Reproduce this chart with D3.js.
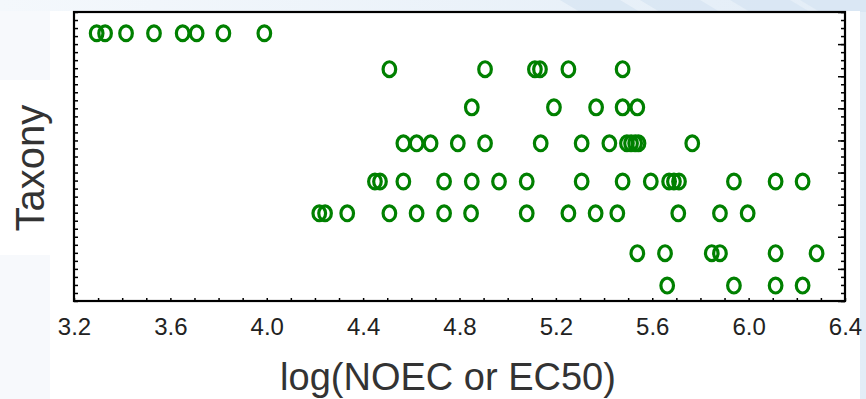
<!DOCTYPE html>
<html>
<head>
<meta charset="utf-8">
<script src="https://cdn.jsdelivr.net/npm/d3@7"></script>
<style>
  body { margin: 0; background: #ffffff; }
  svg { display: block; }
  .tick text { font-family: "Liberation Sans", Arial, sans-serif; }
</style>
</head>
<body>
<div class="chart"></div>
<script>
// chart data
var taxonRows = [8.34, 7.22, 6.03, 4.91, 3.72, 2.73, 1.49, 0.48];

var row1 = [3.294, 3.329, 3.416, 3.532, 3.651, 3.709, 3.820, 3.990];
var row2 = [4.509, 4.906, 5.113, 5.134, 5.252, 5.477];
var row3 = [4.851, 5.192, 5.367, 5.477, 5.538];
var row4 = [4.567, 4.622, 4.680, 4.793, 4.906, 5.137, 5.307, 5.422, 5.495, 5.512, 5.529, 5.543, 5.766];
var row5 = [4.449, 4.470, 4.567, 4.736, 4.851, 4.964, 5.079, 5.307, 5.477, 5.594, 5.670, 5.690, 5.711, 5.939, 6.112, 6.224];
var row6 = [4.218, 4.242, 4.334, 4.509, 4.622, 4.736, 4.848, 5.079, 5.252, 5.365, 5.455, 5.708, 5.881, 5.996];
var row7 = [5.538, 5.653, 5.847, 5.881, 6.112, 6.282];
var row8 = [5.662, 5.939, 6.112, 6.224];

var xTickLabels = [3.2, 3.6, 4.0, 4.4, 4.8, 5.2, 5.6, 6.0, 6.4];

var xLabel = "log(NOEC or EC50)";
var yLabel = "Taxony";

// set up the chart
var svgWidth = 866;
var svgHeight = 399;
var margin = { top: 12, right: 21, bottom: 98, left: 74 };
var width = svgWidth - margin.left - margin.right;
var height = svgHeight - margin.top - margin.bottom;

var svg = d3.select(".chart")
    .append("svg")
    .attr("width", svgWidth)
    .attr("height", svgHeight);

// slide-like background
var defs = svg.append("defs");
var grad = defs.append("linearGradient").attr("id", "bg").attr("x1", 0).attr("x2", 1);
grad.append("stop").attr("offset", "0%").attr("stop-color", "#f4f8fc");
grad.append("stop").attr("offset", "100%").attr("stop-color", "#e3edf7");

svg.append("rect").attr("width", svgWidth).attr("height", svgHeight).attr("fill", "url(#bg)");
// diagonal stripes in the top band
[[560, 620], [640, 700], [730, 790], [800, 866]].forEach(function (s) {
    svg.append("path")
        .attr("d", `M${s[0]},0 L${s[1]},0 L${s[1] + 20},12 L${s[0] + 20},12 Z`)
        .attr("fill", "#d6e4f2")
        .attr("opacity", 0.7);
});
svg.append("rect").attr("x", 0).attr("y", 11).attr("width", 50).attr("height", svgHeight - 11).attr("fill", "#f7f9fc");
svg.append("rect").attr("x", 50).attr("y", 11).attr("width", svgWidth - 50 - 6).attr("height", svgHeight - 11).attr("fill", "#ffffff");
svg.append("rect").attr("x", 0).attr("y", 80).attr("width", 50).attr("height", 175).attr("fill", "#ffffff");

var chart = svg.append("g")
    .attr("transform", `translate(${margin.left},${margin.top})`);

// scales
var xScale = d3.scaleLinear().domain([3.2, 6.4]).range([0, width]);
var yScale = d3.scaleLinear().domain([0, 9]).range([height, 0]);

chart.append("rect")
    .attr("width", width)
    .attr("height", height)
    .attr("fill", "#ffffff");

// minor ticks on the bottom, pointing in
chart.append("g")
    .attr("class", "x-minor")
    .attr("transform", `translate(0,${height})`)
    .call(d3.axisBottom(xScale).tickValues(d3.range(32, 65).map(function (d) { return d / 10; }))
        .tickSize(-3).tickFormat(""))
    .call(function (g) { g.select(".domain").remove(); })
    .selectAll("line").attr("stroke", "#000").attr("stroke-width", 1.5);

// x labels
chart.append("g")
    .attr("class", "x-axis")
    .attr("transform", `translate(0,${height})`)
    .call(d3.axisBottom(xScale).tickValues(xTickLabels).tickSize(0).tickPadding(17)
        .tickFormat(d3.format(".1f")))
    .call(function (g) { g.select(".domain").remove(); })
    .selectAll("text")
    .attr("font-size", "24px")
    .attr("fill", "#222");

// left ticks
chart.append("g")
    .attr("class", "y-left")
    .call(d3.axisLeft(yScale).tickValues(d3.range(0, 37).map(function (d) { return d / 4; }))
        .tickSize(-4).tickFormat(""))
    .call(function (g) { g.select(".domain").remove(); })
    .selectAll("line").attr("stroke", "#000").attr("stroke-width", 1.5);

// right ticks, minor and major
chart.append("g")
    .attr("class", "y-right")
    .attr("transform", `translate(${width},0)`)
    .call(d3.axisRight(yScale).tickValues(d3.range(0, 37).map(function (d) { return d / 4; }))
        .tickSize(-4).tickFormat(""))
    .call(function (g) { g.select(".domain").remove(); })
    .selectAll("line").attr("stroke", "#000").attr("stroke-width", 1.5);

chart.append("g")
    .attr("class", "y-right-major")
    .attr("transform", `translate(${width},0)`)
    .call(d3.axisRight(yScale).tickValues(d3.range(0, 10)).tickSize(-7).tickFormat(""))
    .call(function (g) { g.select(".domain").remove(); })
    .selectAll("line").attr("stroke", "#000").attr("stroke-width", 1.5);

// frame
chart.append("rect")
    .attr("width", width)
    .attr("height", height)
    .attr("fill", "none")
    .attr("stroke", "#000")
    .attr("stroke-width", 2.2);

// points
var rows = [row1, row2, row3, row4, row5, row6, row7, row8];
var points = [];
rows.forEach(function (r, i) {
    r.forEach(function (v) { points.push({ x: v, y: taxonRows[i] }); });
});

chart.selectAll("ellipse")
    .data(points)
    .enter()
    .append("ellipse")
    .attr("cx", function (d) { return xScale(d.x); })
    .attr("cy", function (d) { return yScale(d.y); })
    .attr("rx", 6.3)
    .attr("ry", 7.4)
    .attr("fill", "none")
    .attr("stroke", "#008000")
    .attr("stroke-width", 3.2);

// axis titles
svg.append("text")
    .attr("x", 448)
    .attr("y", 390)
    .attr("text-anchor", "middle")
    .attr("font-family", "Liberation Sans, Arial, sans-serif")
    .attr("font-size", "38px")
    .attr("fill", "#333")
    .text(xLabel);

svg.append("text")
    .attr("transform", "translate(44,168) rotate(-90)")
    .attr("text-anchor", "middle")
    .attr("font-family", "Liberation Sans, Arial, sans-serif")
    .attr("font-size", "40px")
    .attr("fill", "#333")
    .text(yLabel);
</script>
</body>
</html>
